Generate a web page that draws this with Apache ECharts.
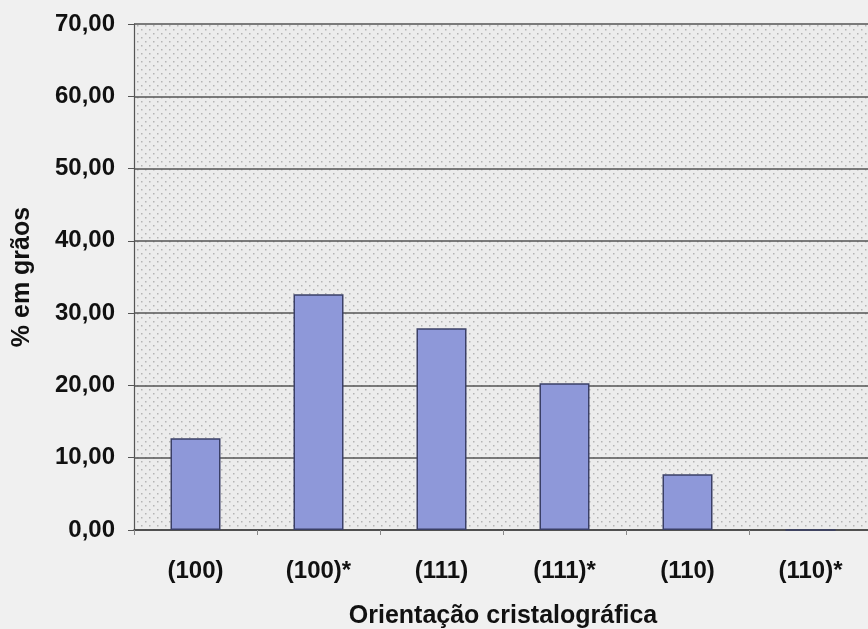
<!DOCTYPE html>
<html>
<head>
<meta charset="utf-8">
<script src="https://cdn.jsdelivr.net/npm/echarts@6/dist/echarts.min.js"></script>
<style>
  html, body { margin: 0; padding: 0; background: #f0f0f0; }
  #chart { width: 868px; height: 629px; }
</style>
</head>
<body>
<div id="chart"></div>
<script>
// Crystal orientation categories and grain percentages
const categories = ['(100)', '(100)*', '(111)', '(111)*', '(110)', '(110)*'];
const grainPercent = [12.7, 32.6, 27.9, 20.3, 7.7, 0];
const yTicks = [0, 10, 20, 30, 40, 50, 60, 70];

// Small dotted texture for the plotting area
function dotPattern() {
  const c = document.createElement('canvas');
  c.width = 8; c.height = 8;
  const g = c.getContext('2d');
  g.fillStyle = '#ececec';
  g.fillRect(0, 0, 8, 8);
  g.fillStyle = '#b4b4b4';
  g.fillRect(1, 1, 1.5, 1.5);
  g.fillRect(5, 5, 1.5, 1.5);
  return { image: c, repeat: 'repeat' };
}

const fmt = v => v.toFixed(2).replace('.', ',');

const chart = echarts.init(document.getElementById('chart'), null, { renderer: 'canvas' });
chart.setOption({
  backgroundColor: '#f0f0f0',
  animation: false,
  textStyle: { fontFamily: 'Liberation Sans, Arial, sans-serif' },
  grid: {
    left: 134, right: -4, top: 24, bottom: 99,
    outerBoundsMode: 'none',
    containLabel: false,
    show: true, backgroundColor: dotPattern(), borderWidth: 0
  },
  xAxis: {
    type: 'category',
    data: categories,
    name: 'Orientação cristalográfica',
    nameLocation: 'middle',
    nameGap: 74,
    nameTextStyle: { fontSize: 25, fontWeight: 'bold', color: '#111' },
    axisLine: { lineStyle: { color: '#444', width: 1.5 } },
    axisTick: { show: true, length: 5, lineStyle: { color: '#888' } },
    axisLabel: { fontSize: 24, fontWeight: 'bold', color: '#111', margin: 29 }
  },
  yAxis: {
    type: 'value',
    min: yTicks[0],
    max: yTicks[yTicks.length - 1],
    interval: 10,
    name: '% em grãos',
    nameLocation: 'middle',
    nameGap: 99,
    nameTextStyle: { fontSize: 25, fontWeight: 'bold', color: '#111' },
    axisLine: { show: true, lineStyle: { color: '#555', width: 1.2 } },
    axisTick: { show: true, length: 6, lineStyle: { color: '#555' } },
    axisLabel: { fontSize: 24, fontWeight: 'bold', color: '#111', margin: 19, formatter: fmt },
    splitLine: { show: true, lineStyle: { color: '#555', width: 1.5 } }
  },
  series: [{
    type: 'bar',
    data: grainPercent,
    barWidth: 50,
    itemStyle: { color: '#8e98d9', borderColor: '#3a3f66', borderWidth: 1.5 }
  }]
});
</script>
</body>
</html>
